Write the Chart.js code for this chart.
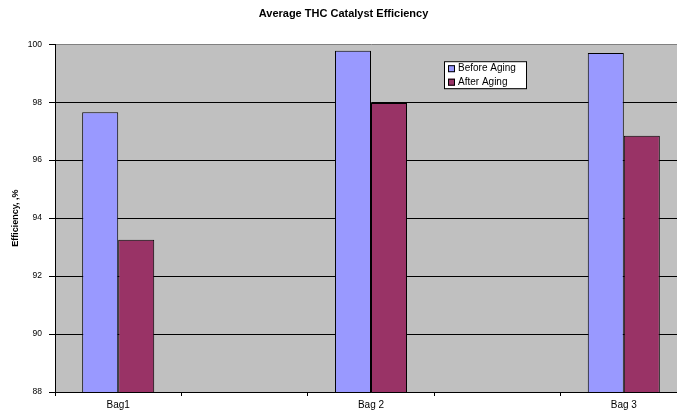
<!DOCTYPE html>
<html>
<head>
<meta charset="utf-8">
<script src="https://cdn.jsdelivr.net/npm/chart.js@4/dist/chart.umd.min.js"></script>
<style>
    html, body { margin: 0; padding: 0; background: #fff; overflow: hidden; }
    #wrap { width: 677px; height: 416px; overflow: hidden; }
</style>
</head>
<body>
<div id="wrap"><canvas id="chart" width="750" height="416"></canvas></div>
<script>
const categories = ['Bag1', '', 'Bag 2', '', 'Bag 3'];
const beforeAging = [97.65, null, 99.77, null, 99.70];
const afterAging = [93.25, null, 97.97, null, 96.84];
const yTicks = [88, 90, 92, 94, 96, 98, 100];

const palette = {
    before: '#9999ff',
    after: '#993366',
    plot: '#c0c0c0',
};

const FONT = 'Arial, "Liberation Sans", sans-serif';

// grey plot background, like the old Excel charts
const plotBackground = {
    id: 'plotBackground',
    beforeDraw(chart) {
        const { ctx, chartArea: a } = chart;
        ctx.save();
        ctx.fillStyle = palette.plot;
        ctx.fillRect(a.left, a.top, a.right - a.left, a.bottom - a.top);
        ctx.restore();
    },
};

// boxed legend sitting inside the plot area
const boxLegend = {
    id: 'boxLegend',
    afterDraw(chart) {
        const { ctx, chartArea: a } = chart;
        const x = a.left + 389;
        const y = a.top + 17;
        ctx.save();
        ctx.fillStyle = '#fff';
        ctx.fillRect(x, y, 82, 27);
        ctx.strokeStyle = '#000';
        ctx.lineWidth = 1;
        ctx.strokeRect(x + 0.5, y + 0.5, 82, 27);
        ctx.font = `10px ${FONT}`;
        ctx.textBaseline = 'middle';
        chart.data.datasets.forEach((ds, i) => {
            const cy = y + 7 + i * 13.5;
            ctx.fillStyle = ds.backgroundColor;
            ctx.fillRect(x + 4, cy - 3, 7, 7);
            ctx.strokeRect(x + 4.5, cy - 2.5, 6, 6);
            ctx.fillStyle = '#000';
            ctx.fillText(ds.label, x + 14, cy + 0.5);
        });
        ctx.restore();
    },
};

new Chart(document.getElementById('chart'), {
    type: 'bar',
    data: {
        labels: categories,
        datasets: [
            {
                label: 'Before Aging',
                data: beforeAging,
                backgroundColor: palette.before,
                borderColor: '#000',
                borderWidth: 1,
                borderSkipped: false,
            },
            {
                label: 'After Aging',
                data: afterAging,
                backgroundColor: palette.after,
                borderColor: '#000',
                borderWidth: 1,
                borderSkipped: false,
            },
        ],
    },
    options: {
        responsive: false,
        animation: false,
        categoryPercentage: 0.57,
        barPercentage: 1,
        layout: { padding: { left: 0, right: 63, top: 0, bottom: 0 } },
        plugins: {
            legend: { display: false },
            tooltip: { enabled: false },
            title: {
                display: true,
                text: 'Average THC Catalyst Efficiency',
                color: '#000',
                font: { family: FONT, size: 11, weight: 'bold', lineHeight: 1.2 },
                padding: { top: 7, bottom: 24 },
            },
        },
        scales: {
            x: {
                afterFit: scale => { scale.height = 24; },
                grid: {
                    offset: true,
                    drawOnChartArea: false,
                    tickLength: 4,
                    tickColor: '#000',
                },
                border: { color: '#000', width: 1 },
                ticks: { color: '#000', padding: 3, font: { family: FONT, size: 10 } },
            },
            y: {
                min: 88,
                max: 100,
                afterFit: scale => { scale.width = 55; },
                afterBuildTicks: scale => { scale.ticks = yTicks.map(value => ({ value })); },
                grid: {
                    color: ctx => (ctx.tick && ctx.tick.value === 100 ? '#808080' : '#000'),
                    tickColor: '#000',
                    tickLength: 6,
                },
                border: { color: '#000', width: 1 },
                ticks: { color: '#000', padding: 7, font: { family: FONT, size: 8.5 } },
                title: {
                    display: true,
                    text: 'Efficiency, ,%',
                    color: '#000',
                    font: { family: FONT, size: 9, weight: 'bold' },
                    padding: { top: 10, bottom: 0 },
                },
            },
        },
    },
    plugins: [plotBackground, boxLegend],
});
</script>
</body>
</html>
